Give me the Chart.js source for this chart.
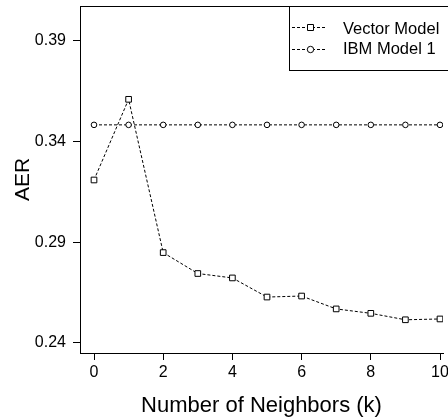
<!DOCTYPE html>
<html><head><meta charset="utf-8">
<script src="https://cdn.jsdelivr.net/npm/chart.js@4.4.1/dist/chart.umd.min.js"></script>
<style>html,body{margin:0;padding:0;background:#fff}canvas{display:block}</style>
</head><body>
<canvas id="c" width="448" height="419"></canvas>
<script>
const neighbors = [0, 1, 2, 3, 4, 5, 6, 7, 8, 9, 10];
const vectorModel = [0.3209, 0.3610, 0.2848, 0.2744, 0.2722, 0.2627, 0.2632, 0.2568, 0.2546, 0.2514, 0.2518];
const ibmModel1 = [0.3483, 0.3483, 0.3483, 0.3483, 0.3483, 0.3483, 0.3483, 0.3483, 0.3483, 0.3483, 0.3483];
const seriesNames = ['Vector Model', 'IBM Model 1'];
const xTicks = [0, 2, 4, 6, 8, 10];
const yTicks = [0.24, 0.29, 0.34, 0.39];
const xTitle = 'Number of Neighbors (k)';
const yTitle = 'AER';

const FONT = '"Liberation Sans", Arial, Helvetica, sans-serif';
Chart.defaults.font.family = FONT;
Chart.defaults.color = '#000';

const pts = arr => neighbors.map((k, i) => ({x: k, y: arr[i]}));

const frame = {
  id: 'frame',
  afterDraw(chart) {
    const {ctx, chartArea: a} = chart;
    ctx.save();
    ctx.strokeStyle = '#000';
    ctx.lineWidth = 1;
    ctx.beginPath();
    ctx.moveTo(a.left, Math.round(a.top) + 0.5);
    ctx.lineTo(chart.width, Math.round(a.top) + 0.5);
    ctx.stroke();
    // legend box
    const lx = 289.5, ly = 6.5, lh = 64;
    ctx.fillStyle = '#fff';
    ctx.fillRect(lx, ly, chart.width - lx + 5, lh);
    ctx.strokeRect(lx, ly, chart.width - lx + 20, lh);
    const rows = [
      {name: seriesNames[0], y: 27, ty: 29, style: 'rect'},
      {name: seriesNames[1], y: 49, ty: 49.5, style: 'circle'}
    ];
    rows.forEach(r => {
      ctx.setLineDash([3, 2]);
      ctx.beginPath();
      ctx.moveTo(292, r.y + 0.5);
      ctx.lineTo(326, r.y + 0.5);
      ctx.stroke();
      ctx.setLineDash([]);
      ctx.fillStyle = '#fff';
      ctx.beginPath();
      if (r.style === 'rect') {
        ctx.rect(307.5, r.y - 2.5, 6, 6);
      } else {
        ctx.arc(310.5, r.y + 0.5, 3.2, 0, Math.PI * 2);
      }
      ctx.fill();
      ctx.stroke();
      ctx.fillStyle = '#000';
      ctx.font = '16.5px ' + FONT;
      ctx.textBaseline = 'middle';
      ctx.textAlign = 'left';
      ctx.fillText(r.name, 343, r.ty);
    });
    ctx.restore();
  }
};

const chart = new Chart(document.getElementById('c'), {
  type: 'line',
  data: {
    datasets: [
      {
        label: seriesNames[0],
        data: pts(vectorModel),
        borderColor: '#000',
        borderWidth: 1,
        borderDash: [3, 2],
        pointStyle: 'rect',
        pointRadius: 4,
        pointBorderWidth: 1,
        pointBorderColor: '#000',
        pointBackgroundColor: '#fff',
        tension: 0,
        fill: false
      },
      {
        label: seriesNames[1],
        data: pts(ibmModel1),
        borderColor: '#000',
        borderWidth: 1,
        borderDash: [3, 2],
        pointStyle: 'circle',
        pointRadius: 2.8,
        pointBorderWidth: 1,
        pointBorderColor: '#000',
        pointBackgroundColor: '#fff',
        tension: 0,
        fill: false
      }
    ]
  },
  options: {
    responsive: false,
    animation: false,
    devicePixelRatio: 1,
    layout: {padding: {top: 6, right: 0, left: 0, bottom: 0}},
    plugins: {legend: {display: false}, tooltip: {enabled: false}},
    scales: {
      x: {
        type: 'linear',
        min: -0.4046,
        max: 10.231,
        afterBuildTicks: s => { s.ticks = xTicks.map(v => ({value: v})); },
        afterFit: s => { s.height = 66; s.paddingLeft = 0; s.paddingRight = 0; },
        grid: {drawOnChartArea: false, drawTicks: true, tickLength: 7, color: '#000', lineWidth: 1},
        border: {display: true, color: '#000', width: 1},
        ticks: {font: {size: 16}, padding: 3, maxRotation: 0, autoSkip: false, callback: v => String(v)},
        title: {display: true, text: xTitle, font: {size: 22, lineHeight: 1.2}, padding: {top: 5, bottom: 0}}
      },
      y: {
        type: 'linear',
        min: 0.23488,
        max: 0.4074,
        afterBuildTicks: s => { s.ticks = yTicks.map(v => ({value: v})); },
        afterFit: s => { s.width = 80; s.paddingTop = 0; s.paddingBottom = 0; },
        grid: {drawOnChartArea: false, drawTicks: true, tickLength: 7, color: '#000', lineWidth: 1},
        border: {display: true, color: '#000', width: 1},
        ticks: {font: {size: 16}, padding: 7, autoSkip: false, callback: v => v.toFixed(2)},
        title: {display: true, text: yTitle, font: {size: 21, lineHeight: 1.2}, padding: {top: 11, bottom: 0}}
      }
    }
  },
  plugins: [frame]
});

// Align the x range so that k=0 sits at 94px and k=10 at 440px of the actual chart area.
(function alignX() {
  const sx = chart.scales.x;
  const W = sx.right - sx.left;
  const span = 10 * W / (440 - 94);
  const mn = -(94 - sx.left) * span / W;
  chart.options.scales.x.min = mn;
  chart.options.scales.x.max = mn + span;
  chart.update('none');
})();
</script>
</body></html>
